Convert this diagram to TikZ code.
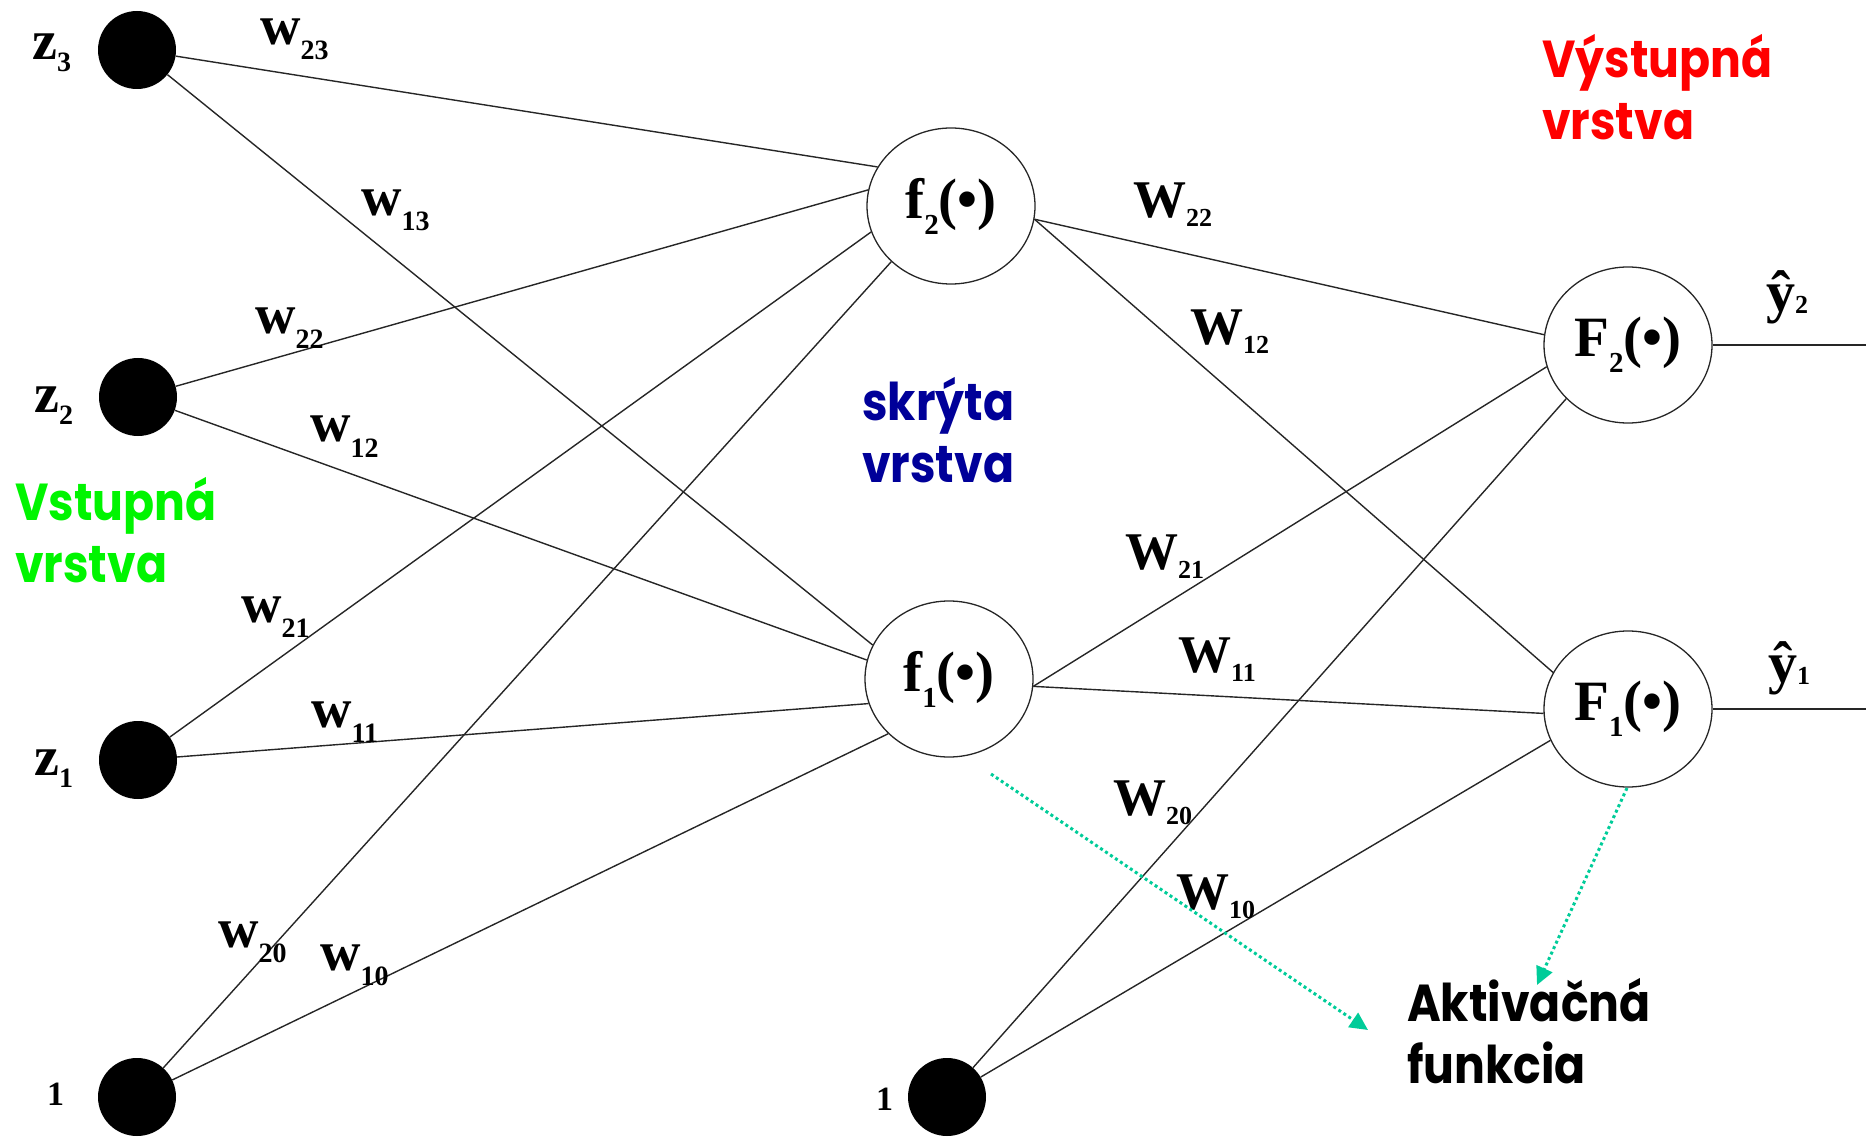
\documentclass[tikz,border=0pt]{standalone}
\usepackage{fontspec}
\setmainfont{Liberation Serif}
\newfontfamily\comic{Poppins}[FakeStretch=0.88]
\usetikzlibrary{shapes.geometric,arrows.meta}
\definecolor{tealarrow}{RGB}{0,204,153}
\definecolor{navytext}{RGB}{0,0,153}
\definecolor{greentext}{RGB}{0,245,0}
\definecolor{redtext}{RGB}{255,0,0}
\newcommand{\wlab}[2]{{\fontsize{56}{56}\selectfont\bfseries #1}\raisebox{-15pt}{\fontsize{28}{28}\selectfont\bfseries #2}}
\newcommand{\Wlab}[2]{{\fontsize{53}{53}\selectfont\bfseries #1}\raisebox{-9pt}{\fontsize{26}{26}\selectfont\bfseries #2}}
\newcommand{\zlab}[2]{{\fontsize{56}{56}\selectfont\bfseries #1}\raisebox{-12pt}{\fontsize{28}{28}\selectfont\bfseries #2}}
\newcommand{\flab}[2]{{\fontsize{57}{57}\selectfont\bfseries #1}\raisebox{-16pt}{\fontsize{29}{29}\selectfont\bfseries #2}{\fontsize{57}{57}\selectfont\bfseries (•)}}
\newcommand{\ylab}[1]{{\fontsize{58}{58}\selectfont\bfseries ŷ}\raisebox{-2pt}{\fontsize{26}{26}\selectfont\bfseries #1}}
\begin{document}
\begin{tikzpicture}[x=1pt,y=-1pt,
  dot/.style={circle,fill=black,minimum size=78pt,inner sep=0pt},
  neur/.style={ellipse,draw=black!85,line width=1.3pt,minimum width=168pt,minimum height=156pt,inner sep=0pt},
  edge/.style={draw=black!85,line width=1.4pt},
  lab/.style={anchor=base west,inner sep=0pt},
  layertext/.style={anchor=base west,inner sep=0pt,align=left,font=\comic\bfseries\fontsize{52}{62}\selectfont},
  dotarr/.style={draw=tealarrow,line width=3pt,dash pattern=on 3pt off 3pt,-{Triangle[length=18pt,width=17pt]}}
]
\useasboundingbox (0,0) rectangle (1866,1139);
% input layer
\node[dot] (z3) at (137,50) {};
\node[dot] (z2) at (138,397) {};
\node[dot] (z1) at (138,760) {};
\node[dot] (b1) at (137,1097) {};
\node[dot] (b2) at (947,1097) {};
\node[lab] (lz3) at (32,60) {\zlab{z}{3}};
\node[lab] (lz2) at (34,413) {\zlab{z}{2}};
\node[lab] (lz1) at (34,775) {\zlab{z}{1}};
\node[lab] (lb1) at (47,1105) {\fontsize{34}{34}\selectfont\bfseries 1};
\node[lab] (lb2) at (876,1110) {\fontsize{34}{34}\selectfont\bfseries 1};
% hidden and output layer
\node[neur] (f2) at (951,206) {\flab{f}{2}};
\node[neur] (f1) at (949,679) {\flab{f}{1}};
\node[neur] (F2) at (1628,345) {\flab{F}{2}};
\node[neur] (F1) at (1628,709) {\flab{F}{1}};
% connections input -> hidden
\draw[edge] (z3) -- (f2.152);
\draw[edge] (z2) -- (f2.169);
\draw[edge] (z1) -- (f2.198);
\draw[edge] (b1) -- (f2.223);
\draw[edge] (z3) -- (f1.156);
\draw[edge] (z2) -- (f1.167);
\draw[edge] (z1) -- (f1.197);
\draw[edge] (b1) -- (f1.222);
% hidden -> output
\draw[edge] (f2.-9) -- (F2.173);
\draw[edge] (f2.-9) -- (F1.154);
\draw[edge] (f1.-5) -- (F2.195);
\draw[edge] (f1.-5) -- (F1.183);
\draw[edge] (b2) -- (F2.221);
\draw[edge] (b2) -- (F1.202);
% outputs
\coordinate (o2) at (1866,345);
\coordinate (o1) at (1866,709);
\draw[edge] (F2.east) -- (o2);
\draw[edge] (F1.east) -- (o1);
\node[lab] (y2) at (1766,312) {\ylab{2}};
\node[lab] (y1) at (1768,682) {\ylab{1}};
% weight labels left
\node[lab] (w23) at (260,45) {\wlab{w}{23}};
\node[lab] (w13) at (361,216) {\wlab{w}{13}};
\node[lab] (w22a) at (255,334) {\wlab{w}{22}};
\node[lab] (w12a) at (310,442) {\wlab{w}{12}};
\node[lab] (w21a) at (241,622) {\wlab{w}{21}};
\node[lab] (w11a) at (311,727) {\wlab{w}{11}};
\node[lab] (w20a) at (218,947) {\wlab{w}{20}};
\node[lab] (w10a) at (320,970) {\wlab{w}{10}};
% weight labels right
\node[lab] (W22) at (1133,218) {\Wlab{W}{22}};
\node[lab] (W12) at (1190,345) {\Wlab{W}{12}};
\node[lab] (W21) at (1125,569) {\Wlab{W}{21}};
\node[lab] (W11) at (1178,672) {\Wlab{W}{11}};
\node[lab] (W20) at (1113,815) {\Wlab{W}{20}};
\node[lab] (W10) at (1176,909) {\Wlab{W}{10}};
% layer texts (base = last line baseline)
\node[layertext,text=redtext] (outtext) at (1542,140) {Výstupná\\vrstva};
\node[layertext,text=navytext] (hidtext) at (862,482) {skrýta\\vrstva};
\node[layertext,text=greentext] (intext) at (15,582) {Vstupná\\vrstva};
\node[layertext,text=black] (akt) at (1407,1083) {Aktivačná\\funkcia};
% activation arrows
\coordinate (d1s) at (991,774);
\coordinate (d1e) at (1368,1030);
\coordinate (d2s) at (1627,788);
\coordinate (d2e) at (1537,985);
\draw[dotarr] (d1s) -- (d1e);
\draw[dotarr] (d2s) -- (d2e);
\end{tikzpicture}
\end{document}
